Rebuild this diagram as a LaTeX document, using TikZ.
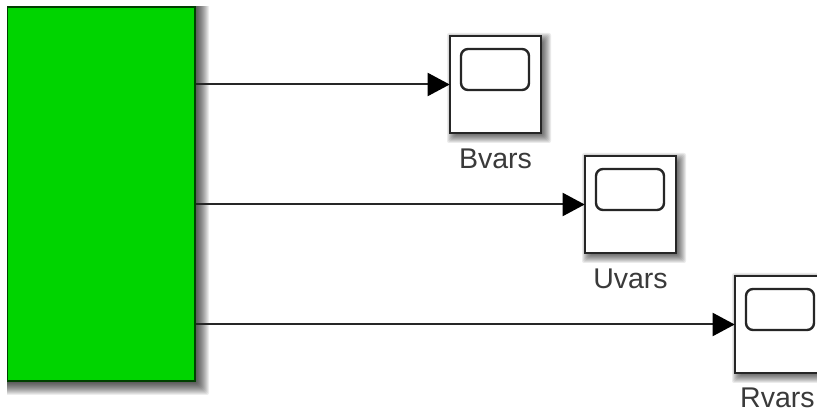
\documentclass[tikz,border=0pt]{standalone}
\usepackage{fontspec}
\setmainfont{Liberation Sans}
\usetikzlibrary{arrows.meta}
\definecolor{blockgreen}{RGB}{0,212,0}
\definecolor{labelgray}{RGB}{58,58,58}
\newcommand{\softshadow}[6]{%
  \foreach \s in {0,1,...,#5}{
    \fill[black,opacity=#6,rounded corners=2pt]
      ({#1+\s},{#2+\s}) rectangle ({#3-\s},{#4-\s});
  }}
\tikzset{
  x=1pt,y=-1pt,
  greenblock/.style={draw=black!70!blockgreen,line width=2.4pt,fill=blockgreen,inner sep=0pt,minimum width=188pt,minimum height=374pt},
  scopebox/.style={draw=black!85,line width=2.6pt,fill=white,inner sep=0pt,minimum width=91pt,minimum height=97pt},
  screen/.style={draw=black!85,line width=2.4pt,fill=white,rounded corners=7pt,inner sep=0pt,minimum width=68pt,minimum height=41pt},
  scopelabel/.style={text=labelgray,font=\fontsize{28.5}{30}\selectfont,inner sep=0pt},
  signal/.style={draw=black!85,line width=2pt,-{Triangle[length=22pt,width=23pt,black]},shorten >=-1pt}
}
\begin{document}
\begin{tikzpicture}
\useasboundingbox (0,0) rectangle (817,411);
\fill[white] (0,0) rectangle (817,411);
\begin{scope}
  \clip (7,7) rectangle (817,411);
  \softshadow{-20}{-20}{209}{395}{12}{0.07}
\end{scope}
\begin{scope}
  \clip (0,0) rectangle (817,411);
  \softshadow{447}{33}{551}{143}{10}{0.08}
  \softshadow{582}{153}{686}{263}{10}{0.08}
  \softshadow{732}{273}{836}{383}{10}{0.08}
  \node[greenblock] (main) at (101,194) {};
  \node[scopebox] (bvars) at (495.5,84.5) {};
  \node[screen] (bscreen) at (495,69.5) {};
  \node[scopebox] (uvars) at (630.5,204.5) {};
  \node[screen] (uscreen) at (630,189.5) {};
  \node[scopebox] (rvars) at (780.5,324.5) {};
  \node[screen] (rscreen) at (780,309.5) {};
\end{scope}
\fill[white] (0,0) rectangle (6.5,411);
\fill[white] (0,0) rectangle (210,6.5);
\node[scopelabel] (blabel) at (495.5,158.5) {Bvars};
\node[scopelabel] (ulabel) at (630.5,278.5) {Uvars};
\node[scopelabel,anchor=west] (rlabel) at (740,398) {Rvars};
\draw[signal] (main.east |- bvars.west) -- (bvars.west);
\draw[signal] (main.east |- uvars.west) -- (uvars.west);
\draw[signal] (main.east |- rvars.west) -- (rvars.west);
\end{tikzpicture}
\end{document}
